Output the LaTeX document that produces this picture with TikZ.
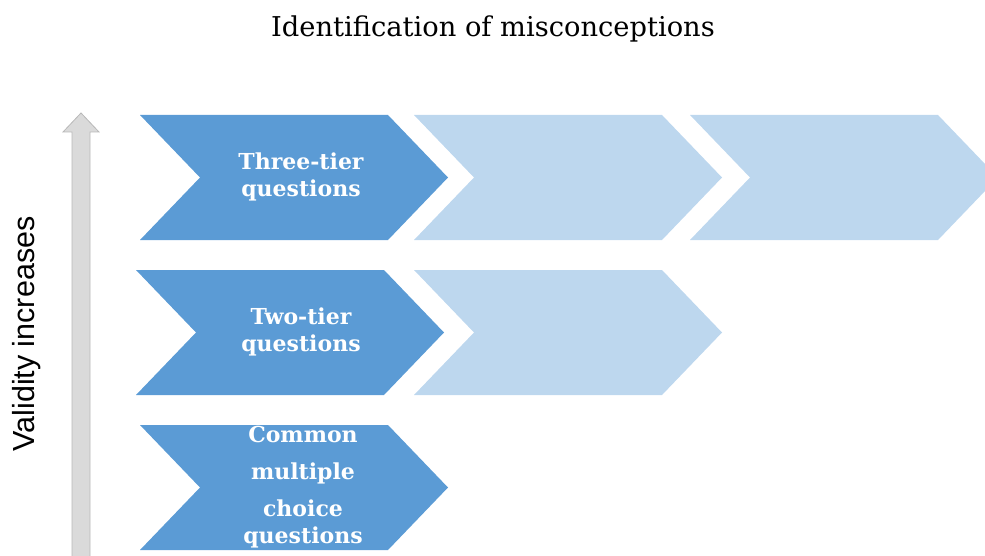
\documentclass[tikz,border=0pt]{standalone}
\usepackage{fontspec}
\setmainfont{DejaVu Serif}
\newfontfamily\labelsans{Liberation Sans}
\definecolor{darkblue}{HTML}{5B9BD5}
\definecolor{lightblue}{HTML}{BDD7EE}
\definecolor{arrowfill}{HTML}{DADADA}
\definecolor{arrowedge}{HTML}{B8B8B8}
\newcommand{\mychev}[3]{\fill[#3] (#1,#2) -- ++(248,0) -- ++(60,62.5) -- ++(-60,62.5) -- ++(-248,0) -- ++(60,-62.5) -- cycle;}
\tikzset{
  chevlabel/.style={text=white, font=\bfseries\fontsize{22}{27}\selectfont, align=center, inner sep=0pt},
}
\begin{document}
\begin{tikzpicture}[x=1pt,y=-1pt]
\useasboundingbox (0,0) rectangle (985,556);
\begin{scope}
\clip (0,0) rectangle (985,556);
% row 1
\mychev{140}{115}{darkblue}
\mychev{414}{115}{lightblue}
\mychev{690}{115}{lightblue}
% row 2
\mychev{136}{270}{darkblue}
\mychev{414}{270}{lightblue}
% row 3
\mychev{140}{425}{darkblue}
% arrow
\filldraw[fill=arrowfill, draw=arrowedge, line width=0.8pt]
  (72,560) -- (72,132) -- (63,132) -- (81,113) -- (99,132) -- (90,132) -- (90,560) -- cycle;
\end{scope}
\node (title) at (493,29) {\fontsize{27.3}{32}\selectfont Identification of misconceptions};
\node[rotate=90] (validity) at (27,334) {\labelsans\fontsize{30.5}{36}\selectfont Validity increases};
\node[chevlabel] (three) at (301,177) {Three-tier\\questions};
\node[chevlabel] (two) at (301,332) {Two-tier\\questions};
\node[chevlabel] (common) at (303,487) {Common\\[10pt]multiple\\[10pt]choice\\questions};
\end{tikzpicture}
\end{document}
